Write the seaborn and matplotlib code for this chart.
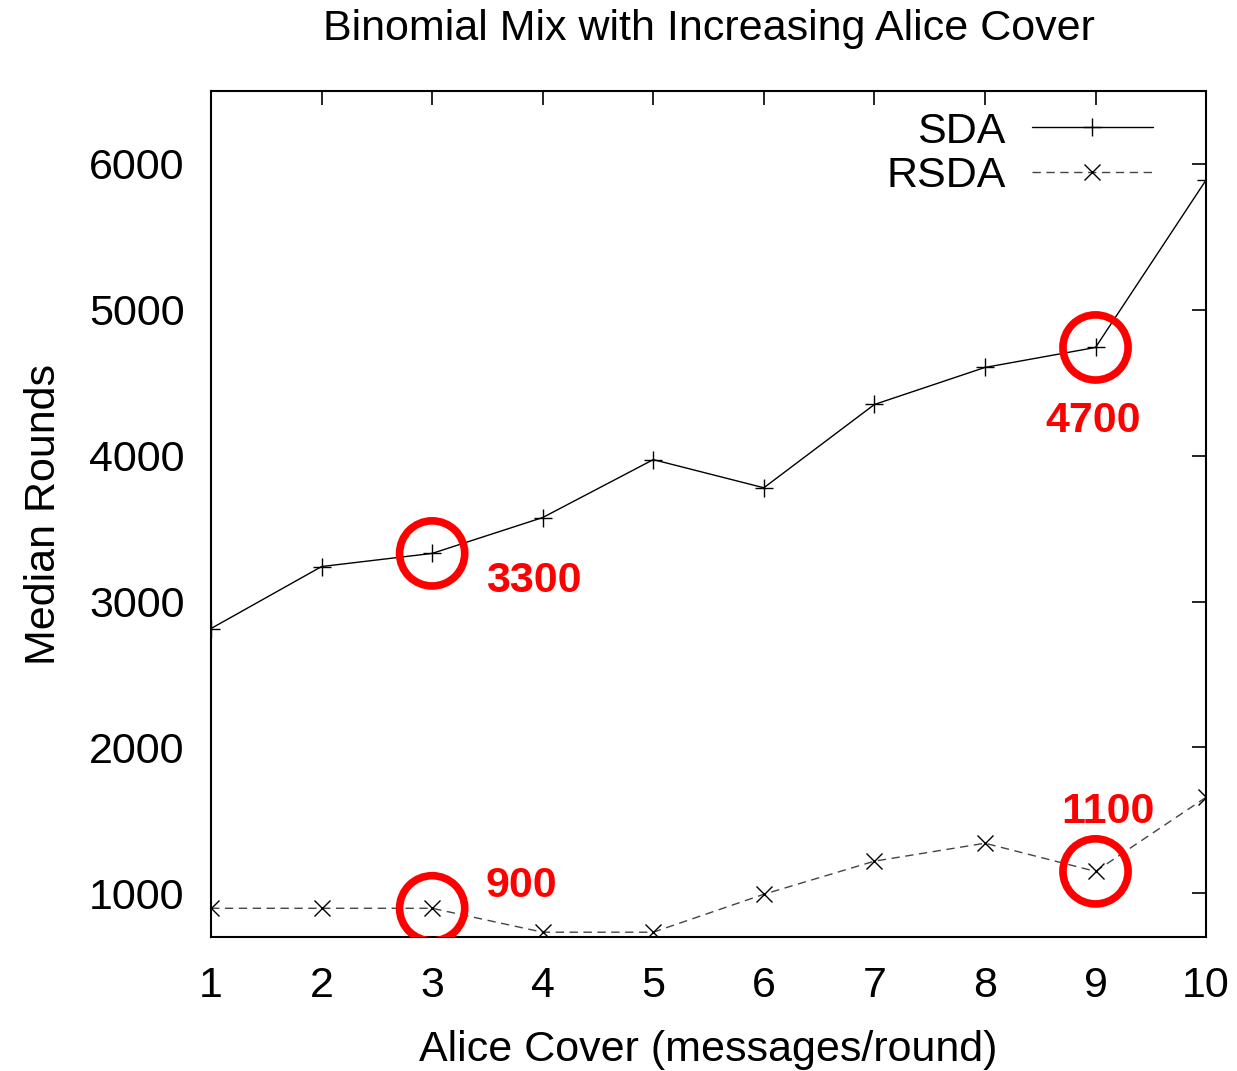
import matplotlib
matplotlib.use("Agg")
import matplotlib.pyplot as plt
import seaborn as sns
import pandas as pd

cover = [1, 2, 3, 4, 5, 6, 7, 8, 9, 10]
sda = [2815, 3240, 3330, 3576, 3973, 3780, 4351, 4605, 4742, 5890]
rsda = [897, 897, 897, 733, 733, 993, 1220, 1343, 1150, 1658]
series_names = ["SDA", "RSDA"]
xticks = [1, 2, 3, 4, 5, 6, 7, 8, 9, 10]
yticks = [1000, 2000, 3000, 4000, 5000, 6000]
highlight_x = [3, 9, 3, 9]
highlight_y = [3330, 4742, 897, 1150]
highlight_text = ["3300", "4700", "900", "1100"]

sns.set_style("white")
plt.rcParams['font.family'] = ['Liberation Sans', 'DejaVu Sans']
plt.rcParams.update({"text.color": "black", "axes.labelcolor": "black",
                     "xtick.color": "black", "ytick.color": "black"})

df = pd.DataFrame({
    "cover": cover * 2,
    "rounds": sda + rsda,
    "series": [series_names[0]] * len(cover) + [series_names[1]] * len(cover),
})

FS = 31

fig = plt.figure(figsize=(12.37, 10.71), dpi=100)
ax = fig.add_axes([0.1706, 0.1251, 0.975 - 0.1706, 0.915 - 0.1251])

sns.lineplot(data=df[df.series == "SDA"], x="cover", y="rounds", ax=ax,
             color="black", lw=1.0, marker="+", markersize=13, mew=1.0,
             mec="black", label="SDA")
sns.lineplot(data=df[df.series == "RSDA"], x="cover", y="rounds", ax=ax,
             color="#444444", lw=1.0, marker="x", markersize=11, mew=1.0,
             mec="black", label="RSDA")
ax.lines[-1].set_dashes([6, 4])

ax.set_xlim(1, 10)
ax.set_ylim(700, 6500)
ax.set_xticks(xticks)
ax.set_yticks(yticks)
ax.tick_params(axis="y", direction="in", length=10, width=1.2, labelsize=FS,
               right=True, pad=19)
ax.tick_params(axis="x", direction="in", length=10, width=1.2, labelsize=FS,
               top=True, pad=21)
for s in ax.spines.values():
    s.set_linewidth(1.5)
    s.set_color("black")

ax.set_title("Binomial Mix with Increasing Alice Cover", fontsize=FS, pad=37)
ax.set_xlabel("Alice Cover (messages/round)", fontsize=FS, labelpad=17)
ax.set_ylabel("Median Rounds", fontsize=FS, labelpad=18)

leg = ax.legend(loc="upper right", bbox_to_anchor=(0.981, 1.0165),
                frameon=False, markerfirst=False,
                fontsize=FS, handlelength=2.8, borderaxespad=0.3,
                borderpad=0.5, labelspacing=0.1, handletextpad=0.62)
for h in leg.legend_handles:
    h.set_markeredgecolor("black")

ax.scatter(highlight_x, highlight_y, s=2200, facecolors="none",
           edgecolors="red", linewidths=5.5, zorder=5)
offsets = [(73, 20), (-2, 53), (64, -16), (9, -43)]
for hx, hy, t, off in zip(highlight_x, highlight_y, highlight_text, offsets):
    ax.annotate(t, (hx, hy), xytext=(off[0], -off[1]), textcoords="offset points",
                color="red", fontsize=FS, fontweight="bold",
                ha="center", va="center")

fig.savefig("out.png", dpi=100)
